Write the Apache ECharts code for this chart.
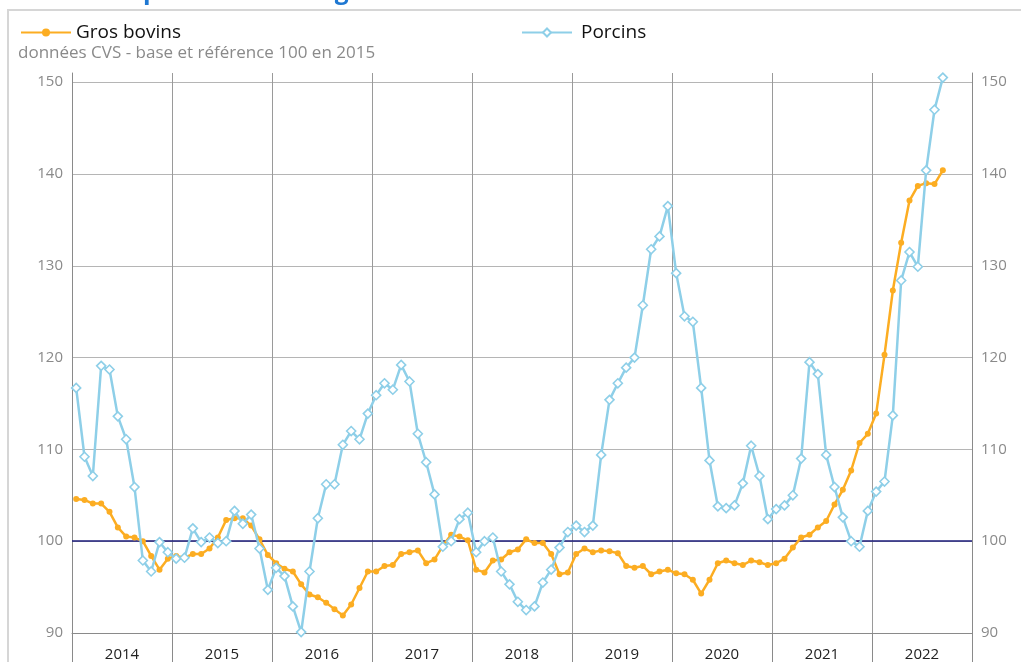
<!DOCTYPE html>
<html>
<head>
<meta charset="utf-8">
<script src="https://cdn.jsdelivr.net/npm/echarts@6/dist/echarts.min.js"></script>
<style>
html,body{margin:0;padding:0;background:#fff;overflow:hidden;}
#chart{position:absolute;left:0;top:0;width:1021px;height:662px;}
#frame{position:absolute;left:7px;top:9px;width:1014px;height:653px;border-top:2px solid #d6d6d6;border-left:2px solid #d6d6d6;box-sizing:border-box;pointer-events:none;z-index:5;}
</style>
</head>
<body>
<div id="chart"></div>
<div id="frame"></div>
<script>
// Years shown on the x axis
var years = ['2014','2015','2016','2017','2018','2019','2020','2021','2022'];
// Monthly categories (Jan 2014 .. Dec 2022)
var months = [];
years.forEach(function (y) { for (var m = 1; m <= 12; m++) months.push(y + '-' + (m < 10 ? '0' + m : m)); });

// Gros bovins (Jan 2014 .. Sep 2022)
var grosBovins = [
  104.6,104.5,104.1,104.1,103.2,101.5,100.5,100.4,100.0,98.4,96.9,98.1,
  98.4,98.2,98.6,98.6,99.2,100.4,102.3,102.5,102.5,101.7,100.2,98.5,
  97.6,97.0,96.7,95.3,94.2,93.9,93.3,92.6,91.9,93.1,94.9,96.7,
  96.7,97.3,97.4,98.6,98.8,99.0,97.6,98.0,99.5,100.7,100.5,100.1,
  96.9,96.6,97.9,98.0,98.8,99.1,100.2,99.8,99.8,98.6,96.4,96.6,
  98.6,99.2,98.8,99.0,98.9,98.7,97.3,97.1,97.3,96.4,96.7,96.9,
  96.5,96.4,95.8,94.3,95.8,97.6,97.9,97.6,97.4,97.9,97.7,97.4,
  97.6,98.1,99.3,100.4,100.7,101.5,102.2,104.0,105.6,107.7,110.7,111.7,
  113.9,120.3,127.3,132.5,137.1,138.7,139.0,138.9,140.4
];
// Porcins (Jan 2014 .. Sep 2022)
var porcins = [
  116.7,109.2,107.1,119.1,118.7,113.6,111.1,105.9,97.9,96.7,99.9,98.8,
  98.1,98.2,101.4,99.9,100.4,99.8,100.0,103.3,101.9,102.9,99.2,94.7,
  97.1,96.2,92.9,90.1,96.7,102.5,106.2,106.2,110.5,112.0,111.1,113.9,
  115.9,117.2,116.5,119.2,117.4,111.7,108.6,105.1,99.4,100.0,102.4,103.1,
  98.8,100.0,100.4,96.7,95.3,93.4,92.5,92.9,95.5,96.9,99.3,101.0,
  101.7,101.0,101.7,109.4,115.4,117.2,118.9,120.0,125.7,131.8,133.2,136.5,
  129.2,124.5,123.9,116.7,108.8,103.8,103.6,103.9,106.3,110.4,107.1,102.4,
  103.5,103.9,105.0,109.0,119.5,118.2,109.4,105.9,102.6,100.0,99.4,103.3,
  105.4,106.5,113.7,128.4,131.5,129.9,140.4,147.0,150.5
];
var yTicks = [90,100,110,120,130,140,150];
var referenceLevel = 100;
var titleText = 'Prix à la production des gros bovins';
var subtitleText = 'données CVS - base et référence 100 en 2015';

var FONT = '"Open Sans", "Noto Sans", sans-serif';
var ORANGE = '#FCAD22';
var BLUE = '#8ECFE8';

// place the (mostly cropped) title so its descenders land where the reference shows them
var mctx = document.createElement('canvas').getContext('2d');
mctx.font = 'bold 24px ' + FONT;
var span24 = mctx.measureText('production des ').width;
var titleSize = Math.round(24 * 192 / span24 * 10) / 10;
mctx.font = 'bold ' + titleSize + 'px ' + FONT;
var titleLeft = 143 - mctx.measureText('Prix à la ').width;

var chart = echarts.init(document.getElementById('chart'), null, {renderer: 'canvas'});

var yAxisCommon = {
  type: 'value',
  min: yTicks[0],
  max: 151,
  interval: 10,
  axisLine: {show: true, lineStyle: {color: '#8a8a8a', width: 1}},
  axisTick: {show: false},
  axisLabel: {
    color: '#8a8a8a', fontSize: 15, fontFamily: FONT, margin: 9,
    formatter: function (v) { return yTicks.indexOf(v) >= 0 ? String(v) : ''; }
  },
  splitLine: {show: true, showMaxLine: false, lineStyle: {color: '#b5b5b5', width: 1}}
};

chart.setOption({
  animation: false,
  backgroundColor: '#fff',
  textStyle: {fontFamily: FONT},
  graphic: [
    {
      type: 'text', silent: true, z: 100, x: titleLeft, y: 4,
      style: {text: titleText, fill: '#1f78d2', font: 'bold ' + titleSize + 'px ' + FONT,
              textAlign: 'left', textVerticalAlign: 'bottom', verticalAlign: 'bottom'}
    },
    {
      type: 'text', silent: true, z: 100, x: 18, y: 53,
      style: {text: subtitleText, fill: '#8a8a8a', font: '17px ' + FONT,
              textAlign: 'left', textVerticalAlign: 'middle', verticalAlign: 'middle'}
    }
  ],
  legend: [
    {
      data: ['Gros bovins'], left: 15, top: 18, itemWidth: 50, itemHeight: 10,
      textStyle: {fontSize: 19, color: '#111', fontFamily: FONT, padding: [0, 0, 0, 0]}
    },
    {
      data: ['Porcins'], left: 516, top: 18, itemWidth: 50, itemHeight: 10,
      textStyle: {fontSize: 19, color: '#111', fontFamily: FONT, padding: [0, 0, 0, 4]}
    }
  ],
  grid: {left: 72, right: 49, top: 73, bottom: 27, containLabel: false},
  xAxis: [
    {
      type: 'category', data: months, boundaryGap: true, show: false
    },
    {
      type: 'category', data: years, boundaryGap: true, position: 'bottom',
      axisLine: {show: true, lineStyle: {color: '#8a8a8a', width: 1}},
      axisTick: {show: true, length: 30, interval: 0, lineStyle: {color: '#8a8a8a'}},
      axisLabel: {color: '#222', fontSize: 15, fontFamily: FONT, margin: 14, interval: 0},
      splitLine: {show: true, interval: 0, lineStyle: {color: '#9a9a9a', width: 1}}
    }
  ],
  yAxis: [
    Object.assign({position: 'left'}, yAxisCommon),
    Object.assign({position: 'right'}, yAxisCommon)
  ],
  series: [
    {
      name: 'Gros bovins', type: 'line', data: grosBovins, xAxisIndex: 0, yAxisIndex: 0,
      symbol: 'circle', symbolSize: 6, showAllSymbol: true,
      lineStyle: {color: ORANGE, width: 2.5},
      itemStyle: {color: ORANGE, borderColor: ORANGE, borderWidth: 0},
      z: 3,
      markLine: {
        silent: true, symbol: ['none', 'none'], label: {show: false},
        lineStyle: {color: '#1b1b7a', width: 1.5, type: 'solid'},
        data: [{yAxis: referenceLevel}], z: 2
      }
    },
    {
      name: 'Porcins', type: 'line', data: porcins, xAxisIndex: 0, yAxisIndex: 0,
      symbol: 'diamond', symbolSize: 9, showAllSymbol: true,
      lineStyle: {color: BLUE, width: 2.5},
      itemStyle: {color: '#ffffff', borderColor: BLUE, borderWidth: 1.6},
      z: 4
    }
  ]
});
</script>
</body>
</html>
